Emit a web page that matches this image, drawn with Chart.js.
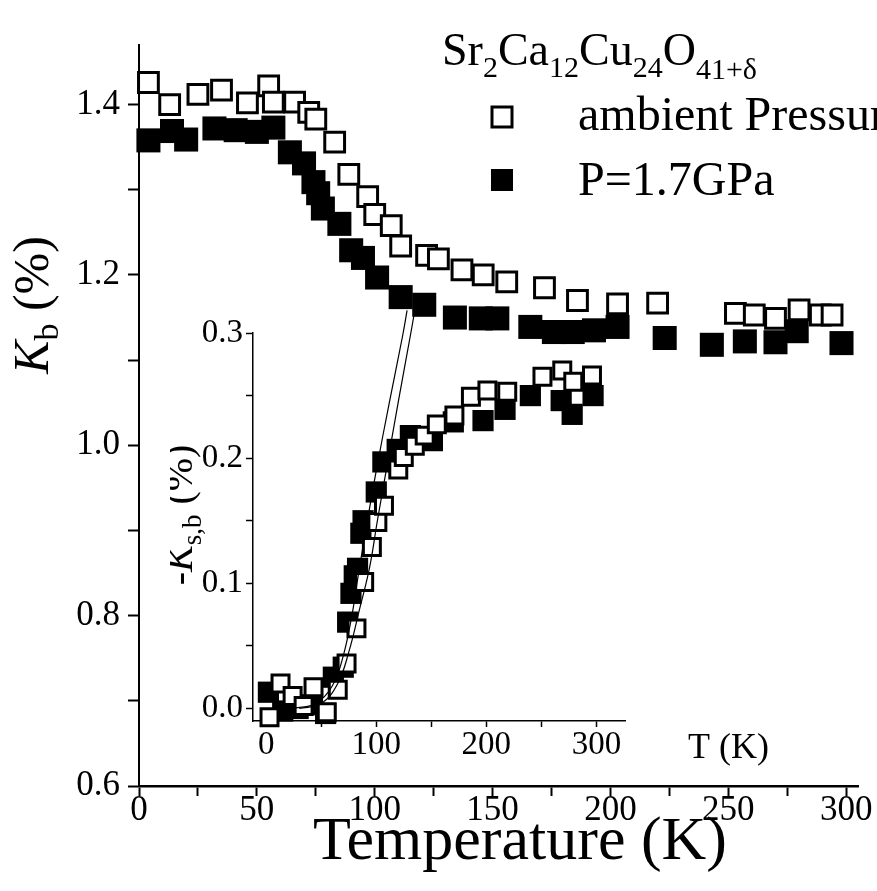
<!DOCTYPE html>
<html>
<head>
<meta charset="utf-8">
<script src="https://cdn.jsdelivr.net/npm/chart.js@4.4.1/dist/chart.umd.min.js"></script>
<style>
  body { margin: 0; background: #fff; }
  #wrap { position: relative; width: 877px; height: 891px; }
  #inset { position: absolute; left: 170px; top: 280px; }
</style>
</head>
<body>
<div id="wrap">
  <canvas id="main" width="877" height="891"></canvas>
  <canvas id="inset" width="480" height="500"></canvas>
</div>
<script>
// main panel, K_b (%) against T (K)
var ambientT = [4, 13, 25, 35, 46, 55, 57, 66, 72, 75, 83, 89, 97, 100, 107, 111, 122, 127, 137, 146, 156, 172, 186, 203, 220, 253, 261, 270, 280, 289, 294];
var ambientK = [1.426, 1.400, 1.412, 1.417, 1.402, 1.422, 1.403, 1.403, 1.391, 1.383, 1.356, 1.318, 1.292, 1.271, 1.258, 1.234, 1.223, 1.219, 1.206, 1.200, 1.192, 1.185, 1.170, 1.166, 1.167, 1.155, 1.153, 1.149, 1.159, 1.153, 1.153];
var pressT = [4, 14, 20, 32, 41, 50, 57, 64, 70, 74, 76, 78, 85, 90, 95, 101, 111, 121, 134, 145, 152, 166, 176, 184, 193, 203, 223, 243, 257, 270, 279, 298];
var pressK = [1.358, 1.369, 1.359, 1.372, 1.370, 1.368, 1.373, 1.344, 1.331, 1.309, 1.296, 1.278, 1.260, 1.229, 1.220, 1.197, 1.174, 1.165, 1.150, 1.149, 1.149, 1.139, 1.133, 1.133, 1.135, 1.139, 1.126, 1.118, 1.122, 1.121, 1.134, 1.120];

// inset, -K_s,b (%) against T (K)
var insetAmbT = [3, 13, 24, 34, 43, 55, 65, 73, 82, 89, 96, 101, 107, 120, 125, 135, 144, 155, 171, 186, 201, 219, 251, 269, 279, 296];
var insetAmbK = [-0.007, 0.020, 0.010, 0.002, 0.017, -0.003, 0.015, 0.036, 0.064, 0.101, 0.129, 0.149, 0.162, 0.191, 0.201, 0.210, 0.218, 0.227, 0.234, 0.249, 0.254, 0.253, 0.265, 0.270, 0.261, 0.266];
var insetPressT = [2, 15, 29, 42, 54, 61, 70, 74, 77, 80, 83, 86, 88, 100, 106, 119, 131, 151, 170, 197, 217, 240, 268, 278, 297];
var insetPressK = [0.013, -0.002, 0.000, 0.003, -0.004, 0.025, 0.033, 0.069, 0.092, 0.106, 0.112, 0.140, 0.150, 0.173, 0.197, 0.207, 0.218, 0.214, 0.229, 0.230, 0.239, 0.250, 0.246, 0.235, 0.250];

// the two thin guide curves in the inset
var lineAT = [25, 45, 60, 70, 78, 83, 90, 100, 112, 124, 128];
var lineAK = [0.000, 0.004, 0.018, 0.042, 0.075, 0.103, 0.140, 0.190, 0.245, 0.298, 0.318];
var lineBT = [30, 50, 65, 75, 85, 94, 101, 110, 120, 131, 135];
var lineBK = [0.000, 0.004, 0.020, 0.045, 0.080, 0.113, 0.150, 0.195, 0.245, 0.298, 0.318];

// tick positions (labels only on every other one)
var mainXTicks = [0, 25, 50, 75, 100, 125, 150, 175, 200, 225, 250, 275, 300];
var mainYTicks = [0.6, 0.7, 0.8, 0.9, 1.0, 1.1, 1.2, 1.3, 1.4];
var insetXTicks = [0, 50, 100, 150, 200, 250, 300];
var insetYTicks = [0, 0.05, 0.1, 0.15, 0.2, 0.25, 0.3];

var serif = '"Liberation Serif", "Times New Roman", serif';

function pts(xs, ys) {
  return xs.map(function (x, i) { return { x: x, y: ys[i] }; });
}

function useTicks(list) {
  return function (scale) {
    scale.ticks = list.map(function (v) { return { value: v }; });
  };
}

// text in pieces: [text, font, baseline shift]
function runWidth(ctx, parts) {
  var w = 0;
  parts.forEach(function (p) { ctx.font = p[1]; w += ctx.measureText(p[0]).width; });
  return w;
}
function runText(ctx, parts, x, y) {
  parts.forEach(function (p) {
    ctx.font = p[1];
    ctx.fillText(p[0], x, y + (p[2] || 0));
    x += ctx.measureText(p[0]).width;
  });
}

var mainText = {
  id: 'mainText',
  afterDraw: function (chart) {
    var ctx = chart.ctx;
    ctx.save();
    ctx.fillStyle = '#000';
    ctx.strokeStyle = '#000';
    ctx.textBaseline = 'alphabetic';
    ctx.textAlign = 'left';

    var big = '46px ' + serif, sub = '30px ' + serif;
    runText(ctx, [['Sr', big], ['2', sub, 12], ['Ca', big], ['12', sub, 12], ['Cu', big], ['24', sub, 12], ['O', big], ['41+\u03b4', sub, 14]], 442, 65);

    ctx.lineWidth = 3;
    ctx.strokeRect(492, 107, 20, 20);
    ctx.fillRect(491, 169, 22, 22);
    ctx.font = '48px ' + serif;
    ctx.fillText('ambient Pressure', 578, 130);
    ctx.fillText('P=1.7GPa', 578, 195);

    // inset x title sits beside the inset axis
    ctx.font = '36px ' + serif;
    ctx.fillText('T (K)', 688, 758);

    // main x title
    ctx.textAlign = 'center';
    ctx.font = '62px ' + serif;
    ctx.fillText('Temperature (K)', 520, 859);
    ctx.textAlign = 'left';

    ctx.translate(48, 305);
    ctx.rotate(-Math.PI / 2);
    var yTitle = [['K', 'italic 50px ' + serif], ['b', '34px ' + serif, 10], [' (%)', '50px ' + serif]];
    runText(ctx, yTitle, -runWidth(ctx, yTitle) / 2, 0);
    ctx.restore();
  }
};

var insetText = {
  id: 'insetText',
  afterDraw: function (chart) {
    var ctx = chart.ctx;
    ctx.save();
    ctx.fillStyle = '#000';
    ctx.textBaseline = 'alphabetic';
    ctx.textAlign = 'left';
    ctx.translate(22, 235);
    ctx.rotate(-Math.PI / 2);
    var t = [['-', '40px ' + serif], ['K', 'italic 40px ' + serif], ['s,b', '27px ' + serif, 9], [' (%)', '40px ' + serif]];
    runText(ctx, t, -runWidth(ctx, t) / 2, 0);
    ctx.restore();
  }
};

new Chart(document.getElementById('main'), {
  type: 'scatter',
  data: {
    datasets: [
      { label: 'ambient Pressure', data: pts(ambientT, ambientK), pointStyle: 'rect', pointRadius: 14,
        borderWidth: 3, borderColor: '#000', backgroundColor: '#fff', clip: false },
      { label: 'P=1.7GPa', data: pts(pressT, pressK), pointStyle: 'rect', pointRadius: 17,
        borderWidth: 0, borderColor: '#000', backgroundColor: '#000', clip: false }
    ]
  },
  options: {
    responsive: false,
    animation: false,
    layout: { padding: { top: 45, right: 19, left: 0, bottom: 0 } },
    plugins: { legend: { display: false }, tooltip: { enabled: false } },
    scales: {
      x: {
        type: 'linear', min: 0, max: 305,
        afterBuildTicks: useTicks(mainXTicks),
        afterFit: function (s) { s.height = 105; },
        border: { color: '#000', width: 2.5 },
        grid: { drawOnChartArea: false, color: '#000', tickLength: 10, tickWidth: 2 },
        ticks: {
          autoSkip: false, maxRotation: 0, color: '#000', padding: -3,
          font: { family: serif, size: 35, lineHeight: 1 },
          callback: function (v) { return v % 50 === 0 ? v : ''; }
        }
      },
      y: {
        min: 0.6, max: 1.47,
        afterBuildTicks: useTicks(mainYTicks),
        afterFit: function (s) { s.width = 139; },
        border: { color: '#000', width: 2 },
        grid: { drawOnChartArea: false, color: '#000', tickLength: 11, tickWidth: 2 },
        ticks: {
          autoSkip: false, color: '#000', padding: 8,
          font: { family: serif, size: 35 },
          callback: function (v) { return Math.round(v * 10) % 2 === 0 ? v.toFixed(1) : ''; }
        }
      }
    }
  },
  plugins: [mainText]
});

var thin = { type: 'line', showLine: true, pointRadius: 0, borderColor: '#000', borderWidth: 1.2,
  tension: 0.4, fill: false, clip: false };

new Chart(document.getElementById('inset'), {
  type: 'scatter',
  data: {
    datasets: [
      Object.assign({ label: 'guide a', data: pts(lineAT, lineAK) }, thin),
      Object.assign({ label: 'guide b', data: pts(lineBT, lineBK) }, thin),
      { label: 'ambient Pressure', data: pts(insetAmbT, insetAmbK), pointStyle: 'rect', pointRadius: 12,
        borderWidth: 3, borderColor: '#000', backgroundColor: '#fff', clip: false },
      { label: 'P=1.7GPa', data: pts(insetPressT, insetPressK), pointStyle: 'rect', pointRadius: 15,
        borderWidth: 0, borderColor: '#000', backgroundColor: '#000', clip: false }
    ]
  },
  options: {
    responsive: false,
    animation: false,
    layout: { padding: { top: 53, right: 25, left: 0, bottom: 0 } },
    plugins: { legend: { display: false }, tooltip: { enabled: false } },
    scales: {
      x: {
        type: 'linear', min: -12, max: 326,
        afterBuildTicks: useTicks(insetXTicks),
        afterFit: function (s) { s.height = 59; },
        border: { color: '#000', width: 1.5 },
        grid: { drawOnChartArea: false, color: '#000', tickLength: 6, tickWidth: 1.5 },
        ticks: {
          autoSkip: false, maxRotation: 0, color: '#000', padding: 2,
          font: { family: serif, size: 33, lineHeight: 1 },
          callback: function (v) { return v % 100 === 0 ? v : ''; }
        }
      },
      y: {
        min: -0.01, max: 0.3,
        afterBuildTicks: useTicks(insetYTicks),
        afterFit: function (s) { s.width = 83; },
        border: { color: '#000', width: 1.5 },
        grid: { drawOnChartArea: false, color: '#000', tickLength: 7, tickWidth: 1.5 },
        ticks: {
          autoSkip: false, color: '#000', padding: 3,
          font: { family: serif, size: 33 },
          callback: function (v) { return Math.round(v * 100) % 10 === 0 ? v.toFixed(1) : ''; }
        }
      }
    }
  },
  plugins: [insetText]
});
</script>
</body>
</html>
